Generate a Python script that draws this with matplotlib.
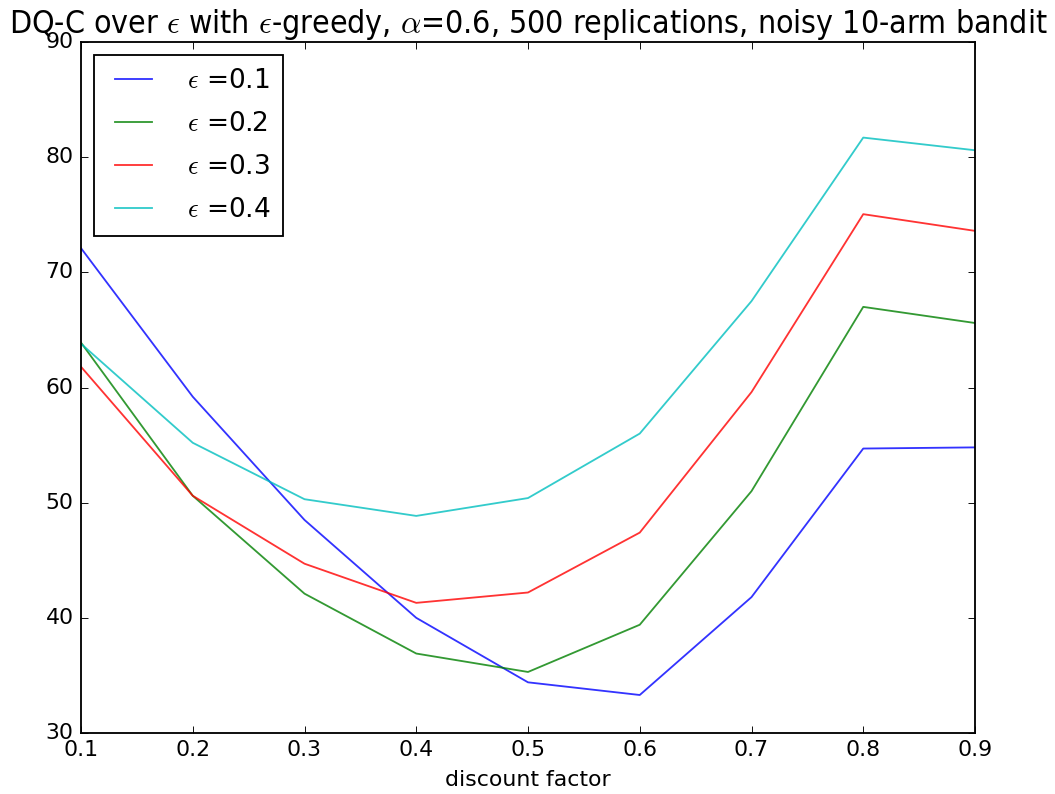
import matplotlib
matplotlib.use("Agg")
import matplotlib.pyplot as plt

plt.style.use("classic")

discount = [0.1, 0.2, 0.3, 0.4, 0.5, 0.6, 0.7, 0.8, 0.9]
eps_labels = [r"$\epsilon$ =0.1", r"$\epsilon$ =0.2", r"$\epsilon$ =0.3", r"$\epsilon$ =0.4"]
eps01 = [72.1, 59.2, 48.5, 40.0, 34.4, 33.3, 41.8, 54.7, 54.8]
eps02 = [63.9, 50.6, 42.1, 36.9, 35.3, 39.4, 51.0, 67.0, 65.6]
eps03 = [61.8, 50.6, 44.7, 41.3, 42.2, 47.4, 59.6, 75.05, 73.6]
eps04 = [63.8, 55.2, 50.3, 48.85, 50.4, 56.0, 67.5, 81.7, 80.6]
series = [eps01, eps02, eps03, eps04]
colors = ["b", "g", "r", "c"]

fig = plt.figure(figsize=(1055 / 132, 794 / 132), dpi=132)
fig.patch.set_facecolor("white")
ax = fig.add_axes([81 / 1055, 61 / 794, 894 / 1055, 691 / 794])

for vals, lab, col in zip(series, eps_labels, colors):
    ax.plot(discount, vals, color=col, alpha=0.8, linewidth=1.0, label=lab)

ax.set_xlim(0.1, 0.9)
ax.set_ylim(30, 90)
ax.set_xticks(discount)
ax.set_xlabel("discount factor", fontsize=12)
ax.set_title(r"DQ-C over $\epsilon$ with $\epsilon$-greedy, $\alpha$=0.6, 500 replications, noisy 10-arm bandit",
             fontsize=17.4, fontstretch="condensed", y=1.0)
leg = ax.legend(loc="upper left", fontsize=14.4, fancybox=False,
                labelspacing=0.64, handletextpad=1.0, borderpad=0.5,
                handlelength=2.0)
leg.get_frame().set_edgecolor("black")

fig.savefig("out.png", dpi=132, facecolor="white")
